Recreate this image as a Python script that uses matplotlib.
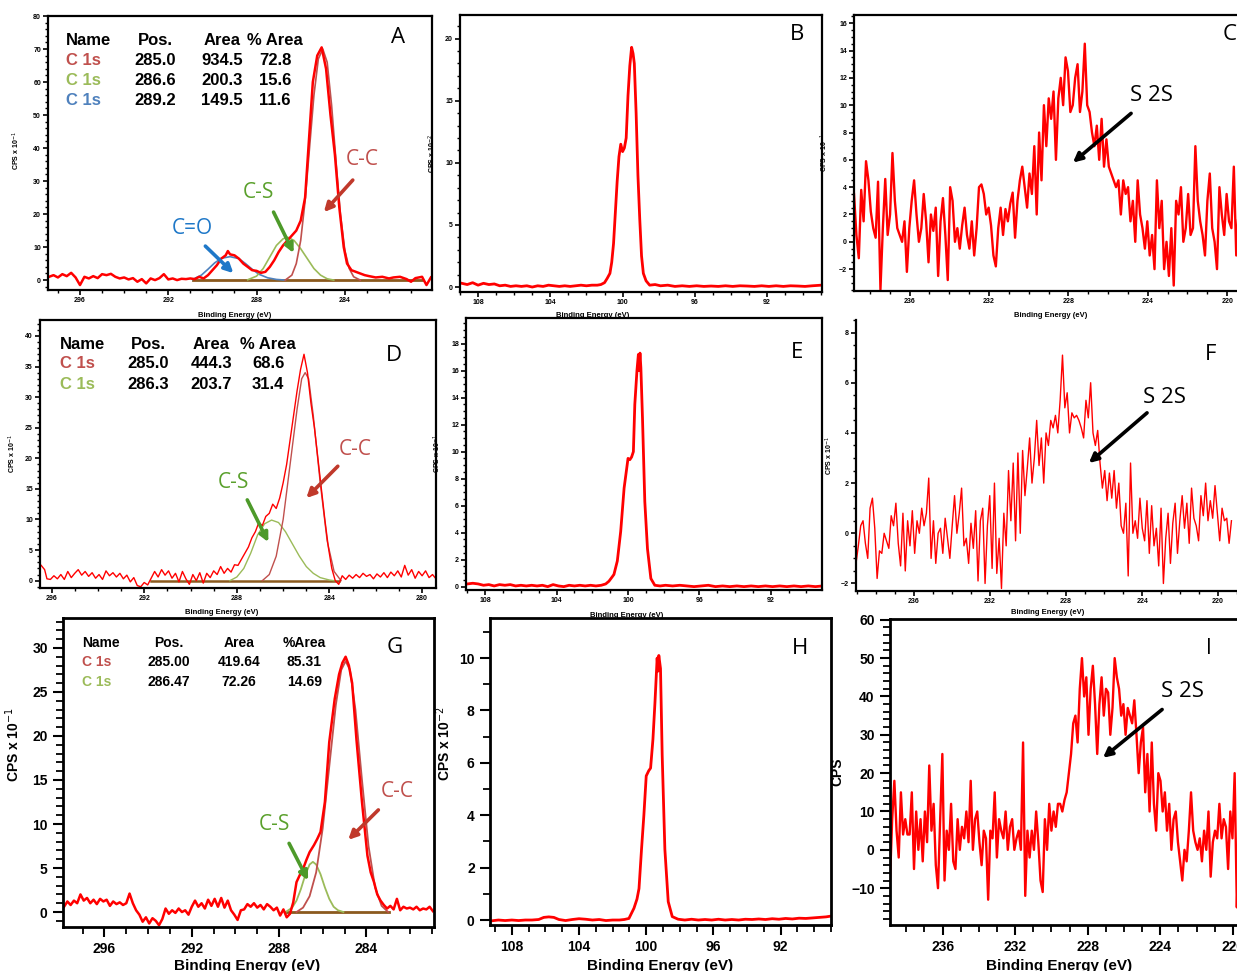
import numpy as np
import matplotlib
matplotlib.use("Agg")
import matplotlib.pyplot as plt
from matplotlib.ticker import MultipleLocator

plt.rcParams['font.family'] = ['Liberation Sans', 'DejaVu Sans']

# ---------------- data ----------------
# A : C 1s, sample 1
a_be = [297.4, 297.2, 297.0, 296.8, 296.6, 296.4, 296.2, 296.0, 295.8, 295.6,
        295.4, 295.2, 295.0, 294.8, 294.6, 294.4, 294.2, 294.0, 293.8, 293.6,
        293.4, 293.2, 293.0, 292.8, 292.6, 292.4, 292.2, 292.0, 291.8, 291.6,
        291.4, 291.2, 291.0, 290.8, 290.6, 290.4, 290.2, 290.0, 289.8, 289.6,
        289.4, 289.3, 289.2, 289.0, 288.8, 288.6, 288.4, 288.2, 288.0, 287.8,
        287.6, 287.4, 287.2, 287.0, 286.8, 286.6, 286.4, 286.2, 286.0, 285.8,
        285.65, 285.45, 285.25, 285.05, 284.85, 284.65, 284.45, 284.25, 284.05, 283.9,
        283.7, 283.5, 283.3, 283.1, 282.9, 282.6, 282.3, 282.0, 281.8, 281.5,
        281.2, 281.0, 280.8, 280.5, 280.3, 280.1]
a_cps = [1.0, 1.5, 0.8, 1.8, 1.2, 2.2, 0.8, -1.5, 1.0, 0.5,
         1.2, 0.6, 1.8, 1.5, 1.9, 1.0, 0.5, 0.8, 0.2, 0.6,
         -0.5, 0.3, -1.0, 0.5, 0.0, 0.6, 1.8, 0.2, 0.5, 0.0,
         0.4, 0.3, 0.5, 0.3, 1.0, 0.5, 1.5, 3.0, 4.5, 6.5,
         7.5, 8.8, 7.8, 7.5, 6.5, 5.0, 4.0, 3.0, 2.8, 2.2,
         2.5, 4.0, 6.0, 8.5, 10.5, 12.0, 13.5, 15.0, 18.0, 25.0,
         40.0, 60.0, 68.0, 70.5, 64.0, 50.0, 38.0, 22.0, 10.0, 5.0,
         3.0, 2.5, 2.0, 1.5, 1.2, 0.8, 1.0, 0.5, 0.8, 1.0,
         0.3, -0.5, 0.6, 1.0, -1.5, 0.8]
a_co_be = [290.9, 290.5, 290.2, 289.9, 289.6, 289.2, 288.8, 288.5, 288.2, 287.9, 287.5, 287.1, 286.7]
a_co = [0.2, 1.5, 3.3, 5.2, 6.6, 7.1, 6.5, 5.0, 3.3, 1.8, 0.7, 0.2, 0.0]
a_cs_be = [288.4, 288.0, 287.7, 287.4, 287.1, 286.8, 286.6, 286.3, 286.0, 285.7, 285.4, 285.1, 284.8, 284.5]
a_cs = [0.1, 1.2, 3.5, 7.0, 10.5, 12.5, 13.0, 12.0, 9.5, 6.5, 3.5, 1.5, 0.4, 0.0]
a_cc_be = [286.7, 286.4, 286.2, 286.0, 285.8, 285.6, 285.4, 285.2, 285.0, 284.8, 284.6, 284.4, 284.2, 284.0, 283.8, 283.6, 283.3]
a_cc = [0.0, 1.5, 5.0, 12.0, 24.0, 40.0, 56.0, 67.0, 70.0, 66.0, 53.0, 36.0, 20.0, 9.0, 3.5, 1.0, 0.0]
a_bg_be = [290.9, 280.5]
a_table = [["Name", "Pos.", "Area", "% Area"],
           ["C 1s", "285.0", "934.5", "72.8"],
           ["C 1s", "286.6", "200.3", "15.6"],
           ["C 1s", "289.2", "149.5", "11.6"]]

# B : S 2p, sample 1
b_be = [108.9, 108.6, 108.3, 108.0, 107.7, 107.4, 107.1, 106.8, 106.5, 106.2,
        105.9, 105.6, 105.3, 105.0, 104.7, 104.4, 104.1, 103.8, 103.5, 103.2,
        102.9, 102.6, 102.3, 102.0, 101.7, 101.4, 101.2, 101.0, 100.85, 100.7,
        100.6, 100.5, 100.4, 100.3, 100.2, 100.1, 100.0, 99.9, 99.8, 99.7,
        99.6, 99.5, 99.42, 99.35, 99.25, 99.15, 99.05, 98.95, 98.85, 98.7,
        98.5, 98.2, 97.9, 97.5, 97.1, 96.7, 96.3, 95.9, 95.5, 95.1,
        94.7, 94.3, 93.9, 93.5, 93.1, 92.7, 92.3, 91.9, 91.5, 91.1,
        90.7, 90.3, 89.9, 89.5, 89.0]
b_cps = [0.3, 0.2, 0.35, 0.15, 0.3, 0.2, 0.25, 0.1, 0.15, 0.05,
         0.1, 0.05, 0.1, 0.0, 0.1, 0.05, 0.15, 0.1, 0.05, 0.1,
         0.05, 0.1, 0.15, 0.1, 0.15, 0.15, 0.2, 0.35, 0.7, 1.1,
         2.0, 3.5, 6.0, 8.5, 10.5, 11.5, 10.9, 11.2, 12.0, 15.4,
         17.8, 19.3, 18.8, 18.0, 14.0, 9.0, 5.5, 2.5, 1.1, 0.5,
         0.15, 0.2, 0.1, 0.15, 0.05, 0.1, 0.05, 0.1, 0.05, 0.08,
         0.05, 0.1, 0.05, 0.1, 0.08, 0.05, 0.1, 0.05, 0.1, 0.05,
         0.1, 0.08, 0.05, 0.1, 0.15]

# C : S 2s, sample 1 (uniform energy grid)
c_range = (238.8, 219.3)
c_cps = [3.5, 0.5, -1.2, 3.8, 1.5, 5.9, 4.5, 2.2, 1.0, 0.3,
         4.4, -3.5, 1.0, 4.6, 0.5, 2.0, 6.5, 3.0, 1.0, 0.5,
         0.0, 1.5, -2.2, 1.0, 3.0, 4.5, 2.0, 0.0, 1.0, 3.5,
         1.5, -1.5, 2.0, 0.8, 2.5, -2.5, 1.5, 3.2, 0.5, -2.8,
         4.0, 3.0, 0.0, 1.0, -0.5, 1.2, 2.5, 0.5, -0.5, 1.5,
         -1.0, 1.0, 4.0, 4.2, 3.5, 2.0, 2.5, 1.2, -1.0, -1.8,
         1.0, 2.5, 0.5, 2.4, 1.5, 2.8, 3.6, 0.3, 3.0, 4.5,
         5.5, 4.0, 2.5, 5.0, 3.5, 7.0, 2.0, 8.0, 4.5, 10.0,
         7.0, 10.5, 9.0, 11.0, 6.0, 10.5, 12.0, 10.0, 13.5, 12.5,
         9.5, 10.0, 12.0, 13.0, 9.5, 11.0, 14.5, 10.0, 9.5, 8.0,
         7.0, 8.5, 6.0, 9.0, 5.5, 7.5, 5.5, 5.0, 4.5, 4.0,
         4.5, 2.0, 4.5, 3.5, 4.0, 1.5, 3.0, 0.0, 4.5, 2.0,
         1.0, -0.5, 1.5, -1.0, 0.5, -2.0, 4.5, 1.0, 3.0, -2.0,
         0.0, -2.5, 1.0, -3.2, 3.0, 2.0, 4.0, 0.0, 1.0, 3.5,
         0.5, 1.0, 7.0, 3.0, 1.5, 0.5, -1.0, 3.0, 5.0, 1.0,
         0.0, -2.0, 4.0, 2.0, 0.5, 3.5, 1.5, 1.0, 5.5, -1.0,
         2.5, 2.0]

# D : C 1s, sample 2
d_be = [296.45, 296.3, 296.2, 296.05, 295.9, 295.75, 295.6, 295.45, 295.3, 295.15,
        295.0, 294.85, 294.7, 294.55, 294.4, 294.25, 294.1, 293.95, 293.8, 293.65,
        293.5, 293.35, 293.2, 293.05, 292.9, 292.75, 292.6, 292.45, 292.3, 292.15,
        292.0, 291.85, 291.7, 291.55, 291.4, 291.25, 291.1, 290.95, 290.8, 290.65,
        290.5, 290.35, 290.2, 290.05, 289.9, 289.75, 289.6, 289.45, 289.3, 289.15,
        289.0, 288.85, 288.7, 288.55, 288.4, 288.25, 288.1, 287.95, 287.8, 287.65,
        287.5, 287.35, 287.2, 287.05, 286.9, 286.75, 286.6, 286.45, 286.3, 286.15,
        286.0, 285.85, 285.7, 285.55, 285.4, 285.25, 285.1, 284.95, 284.8, 284.65,
        284.5, 284.35, 284.2, 284.05, 283.9, 283.75, 283.6, 283.45, 283.3, 283.15,
        283.0, 282.85, 282.7, 282.55, 282.4, 282.25, 282.1, 281.95, 281.8, 281.65,
        281.5, 281.35, 281.2, 281.05, 280.9, 280.75, 280.6, 280.45, 280.3, 280.15,
        280.0, 279.85, 279.7, 279.55, 279.4]
d_cps = [2.5, 1.8, 0.3, 0.2, 0.8, 0.3, 1.0, 0.2, 1.5, 0.5,
         1.2, 1.8, 0.9, 1.5, 0.7, 1.3, 0.4, 1.0, 0.2, 1.6,
         0.8, 1.3, 0.6, 1.2, 0.3, 0.9, -0.2, 0.5, -0.8, -1.0,
         -0.3, -0.7, 0.4, 1.5, 0.6, 1.8, 0.9, 1.6, 0.4, 1.2,
         -0.2, 1.5, 0.3, -0.6, 1.0, 0.0, 1.3, -0.4, 1.2, 0.5,
         1.6, 1.0, 2.3, 1.2, 2.0, 1.4, 2.6, 2.5, 3.5, 4.5,
         5.5, 7.0, 8.0, 9.5, 9.0, 10.5, 11.0, 12.5, 11.8, 13.5,
         16.0, 19.0, 23.0, 27.0, 31.0, 34.5, 37.0, 34.0, 29.0, 25.0,
         20.0, 15.0, 10.0, 5.5, 2.0, 0.0, -0.6, 0.8, 0.2, 0.9,
         0.4, 1.0, 0.5, 1.2, 0.7, 1.0, 0.3, 1.1, 0.6, 1.3,
         0.5, 1.4, 0.8, 1.6, 0.6, 2.5, 0.9, 1.8, 0.4, 1.5,
         0.8, 1.6, 0.5, 1.0, 0.3]
d_cs_be = [288.3, 288.0, 287.7, 287.4, 287.1, 286.8, 286.5, 286.2, 285.9, 285.6, 285.3, 285.0, 284.7, 284.4, 284.0, 283.8]
d_cs = [0.0, 0.6, 2.0, 4.5, 7.5, 9.3, 9.9, 9.5, 8.0, 6.0, 4.0, 2.3, 1.2, 0.5, 0.1, 0.0]
d_cc_be = [286.9, 286.6, 286.3, 286.0, 285.7, 285.4, 285.2, 285.05, 284.9, 284.7, 284.4, 284.1, 283.8, 283.5]
d_cc = [0.0, 1.0, 4.0, 10.0, 19.0, 28.0, 33.0, 34.0, 33.0, 27.0, 16.0, 6.5, 1.5, 0.0]
d_bg_be = [291.7, 283.6]
d_table = [["Name", "Pos.", "Area", "% Area"],
           ["C 1s", "285.0", "444.3", "68.6"],
           ["C 1s", "286.3", "203.7", "31.4"]]

# E : S 2p, sample 2
e_be = [109.0, 108.7, 108.4, 108.1, 107.8, 107.5, 107.2, 106.9, 106.6, 106.3,
        106.0, 105.7, 105.4, 105.1, 104.8, 104.5, 104.2, 103.9, 103.6, 103.3,
        103.0, 102.7, 102.4, 102.1, 101.8, 101.5, 101.25, 101.07, 100.9, 100.79,
        100.6, 100.41, 100.22, 100.07, 100.0, 99.9, 99.8, 99.7, 99.62, 99.5,
        99.42, 99.38, 99.33, 99.28, 99.19, 99.06, 98.91, 98.72, 98.5, 98.2,
        97.9, 97.5, 97.1, 96.7, 96.3, 95.9, 95.5, 95.1, 94.7, 94.3,
        93.9, 93.5, 93.1, 92.7, 92.3, 91.9, 91.5, 91.1, 90.7, 90.3,
        89.9, 89.5, 89.1]
e_cps = [0.2, 0.25, 0.2, 0.1, 0.15, 0.05, 0.15, 0.1, 0.15, 0.05,
         0.1, 0.05, 0.1, 0.05, 0.1, 0.0, 0.15, 0.05, 0.0, 0.1,
         0.05, 0.1, 0.05, 0.1, 0.05, 0.1, 0.2, 0.4, 0.7, 0.9,
         1.9, 4.1, 7.3, 8.8, 9.5, 9.4, 9.6, 10.0, 13.5, 16.0,
         17.2, 16.0, 17.3, 16.2, 12.5, 6.3, 2.8, 0.6, 0.1, 0.05,
         0.1, 0.05, 0.1, 0.05, 0.0, 0.05, 0.1, 0.0, 0.05, 0.0,
         0.05, 0.0, 0.05, 0.0, 0.05, 0.0, 0.05, 0.0, 0.05, 0.0,
         0.05, 0.0, 0.05]

# F : S 2s, sample 2 (uniform energy grid)
f_range = (239.05, 219.3)
f_cps = [-1.2, -0.5, 0.3, 0.5, -0.4, -1.0, 1.0, 1.4, 0.2, -1.8,
         -0.7, -0.8, 0.0, -0.3, -0.6, 0.7, 0.3, 1.2, -0.4, -1.3,
         0.8, -1.5, 0.5, -0.5, 0.9, -0.8, 0.5, 0.0, 1.0, 0.3,
         0.8, 2.2, -1.0, 0.5, -1.2, 0.0, 0.2, -0.8, 0.6, -0.2,
         -1.0, 0.3, 1.5, 0.0, 0.8, 1.8, -0.5, -0.2, -1.2, 0.4,
         -0.6, 0.9, -1.9, 0.5, 1.0, -2.0, 0.3, 1.5, -1.4, 2.0,
         -1.6, -0.2, -2.2, 0.8, -0.5, 2.5, 0.5, 2.8, -0.3, 3.2,
         0.0, 3.3, 1.5, 2.6, 3.8, 2.0, 3.0, 4.5, 2.7, 3.8,
         2.0, 4.0, 3.5, 4.5, 4.2, 4.7, 4.0, 5.3, 7.1, 5.0,
         5.6, 4.0, 4.8, 4.6, 4.7, 4.5, 4.2, 3.8, 5.3, 4.6,
         6.0, 4.0, 3.5, 4.1, 2.8, 1.8, 2.5, 1.3, 2.4, 1.4,
         2.5, 1.0, 2.0, 0.3, 0.0, 1.2, -1.7, 2.8, 0.0, 0.5,
         -0.2, 1.4, 0.2, -0.3, 1.3, -0.8, 1.1, -0.5, 0.2, -1.3,
         1.0, -2.0, -0.2, 0.8, -1.2, 0.4, 1.2, -0.8, 0.5, 1.5,
         0.2, 1.2, -0.4, 1.8, 0.6, 0.3, -0.3, 1.5, 0.7, 2.0,
         0.5, 1.3, 0.6, 1.9, 0.8, -0.3, 1.0, 0.5, 0.6, -0.4,
         0.5]

# G : C 1s, sample 3
g_be = [297.85, 297.7, 297.55, 297.4, 297.25, 297.1, 296.95, 296.8, 296.65, 296.5,
        296.35, 296.2, 296.05, 295.9, 295.75, 295.6, 295.45, 295.3, 295.15, 295.0,
        294.85, 294.7, 294.55, 294.4, 294.25, 294.1, 293.95, 293.8, 293.65, 293.5,
        293.35, 293.2, 293.05, 292.9, 292.75, 292.6, 292.45, 292.3, 292.15, 292.0,
        291.85, 291.7, 291.55, 291.4, 291.25, 291.1, 290.95, 290.8, 290.65, 290.5,
        290.35, 290.2, 290.05, 289.9, 289.75, 289.6, 289.45, 289.3, 289.15, 289.0,
        288.85, 288.7, 288.55, 288.4, 288.25, 288.1, 287.95, 287.8, 287.65, 287.5,
        287.35, 287.2, 287.05, 286.9, 286.75, 286.6, 286.4, 286.25, 286.1, 285.9,
        285.7, 285.45, 285.25, 285.1, 284.95, 284.8, 284.65, 284.45, 284.2, 283.95,
        283.8, 283.65, 283.5, 283.35, 283.2, 283.05, 282.9, 282.75, 282.6, 282.45,
        282.3, 282.15, 282.0, 281.85, 281.7, 281.55, 281.4, 281.25, 281.1, 280.95]
g_cps = [0.6, 1.2, 0.8, 1.3, 1.0, 2.0, 1.3, 1.6, 1.0, 1.4,
         0.9, 1.5, 1.2, 1.4, 0.7, 1.2, 0.9, 1.1, 0.8, 1.0,
         2.1, 1.0, 0.2, -0.3, -1.1, -0.6, -1.3, -0.7, -1.0, -1.5,
         -0.8, 0.4, -0.2, 0.2, -0.1, 0.4, 0.0, 0.2, -0.3, 0.6,
         1.3, 0.6, 1.0, 0.4, 1.4, 0.7, 1.5, 0.6, 1.6, 0.5,
         1.3, 0.2, -0.3, -0.9, 0.2, 0.3, 0.9, 0.6, 1.0, 0.5,
         0.8, 0.3, 0.9, 0.6, 0.2, 0.5, -0.4, 0.3, -0.6, -0.2,
         1.1, 3.4, 4.2, 4.9, 5.9, 6.8, 7.6, 8.3, 9.1, 12.5,
         19.3, 24.2, 27.0, 28.3, 29.0, 28.0, 26.0, 19.5, 12.5, 6.4,
         4.5, 3.4, 2.0, 1.3, 0.8, 0.4, 0.7, 0.3, 1.5, 0.2,
         0.6, 0.4, 0.5, 0.3, 0.6, 0.2, 0.4, 0.3, 0.6, 0.1]
g_cs_be = [287.7, 287.4, 287.2, 287.0, 286.8, 286.6, 286.45, 286.3, 286.1, 285.9, 285.7, 285.5, 285.3, 285.05]
g_cs = [0.0, 0.5, 1.3, 2.6, 4.2, 5.4, 5.7, 5.4, 4.3, 2.8, 1.5, 0.6, 0.2, 0.0]
g_cc_be = [287.2, 286.9, 286.6, 286.3, 286.0, 285.7, 285.4, 285.15, 284.95, 284.75, 284.5, 284.2, 283.9, 283.6, 283.3, 283.0]
g_cc = [0.0, 0.5, 1.8, 4.5, 9.5, 16.5, 23.5, 27.5, 28.5, 27.5, 23.0, 15.0, 7.5, 2.8, 0.7, 0.0]
g_bg_be = [287.75, 282.95]
g_table = [["Name", "Pos.", "Area", "%Area"],
           ["C 1s", "285.00", "419.64", "85.31"],
           ["C 1s", "286.47", "72.26", "14.69"]]

# H : S 2p, sample 3
h_be = [109.2, 108.8, 108.4, 108.0, 107.6, 107.2, 106.8, 106.4, 106.1, 105.8,
        105.5, 105.2, 104.8, 104.4, 104.0, 103.6, 103.2, 102.8, 102.4, 102.0,
        101.6, 101.3, 101.03, 100.73, 100.55, 100.43, 100.28, 100.14, 100.0, 99.85,
        99.74, 99.6, 99.48, 99.35, 99.3, 99.25, 99.15, 99.05, 98.89, 98.69,
        98.45, 98.1, 97.7, 97.3, 96.9, 96.5, 96.1, 95.7, 95.3, 94.9,
        94.5, 94.1, 93.7, 93.3, 92.9, 92.5, 92.1, 91.7, 91.3, 90.9,
        90.5, 90.1, 89.7, 89.3, 89.0]
h_cps = [-0.03, 0.0, -0.02, 0.0, -0.02, 0.0, 0.0, 0.02, 0.1, 0.12,
         0.1, 0.02, -0.02, 0.02, 0.05, 0.03, 0.0, 0.02, -0.02, 0.0,
         0.0, 0.02, 0.06, 0.45, 0.8, 1.2, 2.7, 4.0, 5.5, 5.7,
         5.8, 6.9, 8.3, 10.0, 9.5, 10.1, 9.6, 6.3, 2.7, 0.7,
         0.13, 0.03, 0.0, 0.03, 0.0, 0.02, 0.0, 0.03, 0.0, 0.02,
         0.0, 0.03, 0.02, 0.04, 0.02, 0.05, 0.03, 0.06, 0.04, 0.07,
         0.06, 0.08, 0.1, 0.12, 0.15]

# I : S 2s, sample 3 (uniform energy grid)
i_range = (238.9, 219.3)
i_cps = [-8, 8, 18, 5, -2, 15, 4, 8, 4, 4,
         15, -5, 10, 0, 8, -3, 10, 2, 22, 5,
         12, -4, -10, 8, 25, -8, 5, 0, 12, -3,
         -5, 8, 0, 6, 3, 10, 2, 18, 0, 8,
         10, 2, -4, 5, 3, -13, 5, 3, 15, -2,
         8, 5, 3, 10, 0, 6, 8, 0, 3, 5,
         0, 28, -12, 5, -2, 5, 0, 10, 2, -8,
         -11, 8, 0, 12, 5, 10, 6, 12, 12, 10,
         13, 15, 20, 25, 33, 35, 28, 42, 50, 40,
         45, 30, 42, 48, 38, 25, 38, 45, 35, 42,
         41, 30, 37, 50, 45, 42, 35, 38, 30, 37,
         35, 33, 39, 30, 20, 28, 32, 15, 25, 10,
         28, 12, 5, 20, 18, 10, 15, 5, 12, 0,
         8, 10, 2, -3, -8, 0, -3, 5, 15, 5,
         2, 0, 3, -3, 5, 0, 10, -7, 2, 5,
         3, 12, 3, 8, 6, -5, 10, 3, 20, -15,
         5, 10, 0, 5]

# ---------------- colours ----------------
RED = "#ff0000"
CC_COL = "#c0504d"
CS_COL = "#9bbb59"
CO_COL = "#4f81bd"
BG_COL = "#8b5a1e"
CC_ARROW = "#c0392b"
CS_ARROW = "#4d9a2a"
CO_ARROW = "#1f78c8"
ANN_FONT = ['Open Sans', 'DejaVu Sans']

W, H = 1237, 971
fig = plt.figure(figsize=(W / 100, H / 100), dpi=100)


def add_axes(x0, y0, x1, y1):
    # pixel box (left, top, right, bottom) -> figure fraction
    return fig.add_axes([x0 / W, 1 - y1 / H, (x1 - x0) / W, (y1 - y0) / H])


def style(ax, xlim, ylim, ymaj, ymin, big, ylabel, ylab_pos, xlab_pos, top=True):
    ax.set_xlim(*xlim)
    ax.set_ylim(*ylim)
    ax.xaxis.set_major_locator(MultipleLocator(4))
    ax.xaxis.set_minor_locator(MultipleLocator(1))
    ax.yaxis.set_major_locator(MultipleLocator(ymaj))
    ax.yaxis.set_minor_locator(MultipleLocator(ymin))
    fs = 10 if big else 5
    lw = 2.0 if big else 1.6
    for s in ax.spines.values():
        s.set_linewidth(lw)
    if not top:
        ax.spines['top'].set_visible(False)
    ax.tick_params(which='major', direction='out', length=7 if big else 3.5,
                   width=1.5 if big else 1.2, labelsize=fs, pad=4 if big else 1.5)
    ax.tick_params(which='minor', direction='out', length=5 if big else 2.5,
                   width=1.3 if big else 1.0)
    for lab in ax.get_xticklabels() + ax.get_yticklabels():
        lab.set_fontweight('bold')
    ax.set_xlabel("Binding Energy (eV)", fontsize=11 if big else 5.5,
                  fontweight='bold')
    ax.xaxis.set_label_coords(*xlab_pos)
    ax.set_ylabel(ylabel, fontsize=10 if big else 5, fontweight='bold')
    ax.yaxis.set_label_coords(*ylab_pos)


def table(ax, rows, colors, xs, ys, fs):
    for r, row in enumerate(rows):
        for c, txt in enumerate(row):
            col = colors[r - 1] if (c == 0 and r > 0) else 'black'
            ha = 'left' if c == 0 else 'center'
            ax.text(xs[c], ys[r], txt, transform=ax.transAxes, ha=ha, va='center',
                    fontsize=fs, fontweight='bold', color=col)


def letter(ax, txt, x, y, fs=16):
    ax.text(x, y, txt, transform=ax.transAxes, ha='center', va='center',
            fontsize=fs, family=ANN_FONT, color='black')


def label_arrow(ax, txt, txt_xy, tail, head, color, tcolor, fs=15):
    ax.text(txt_xy[0], txt_xy[1], txt, ha='center', va='center', fontsize=fs,
            family=ANN_FONT, color=tcolor)
    ax.annotate("", xy=head, xytext=tail,
                arrowprops=dict(arrowstyle='-|>', lw=2.6, color=color,
                                mutation_scale=13, shrinkA=0, shrinkB=0))


# ---------------- A ----------------
ax = add_axes(48, 16, 432, 290)
ax.plot(a_bg_be, [0, 0], color=BG_COL, lw=2)
ax.plot(a_co_be, a_co, color=CO_COL, lw=1.2)
ax.plot(a_cs_be, a_cs, color=CS_COL, lw=1.2)
ax.plot(a_cc_be, a_cc, color=CC_COL, lw=1.2)
ax.plot(a_be, a_cps, color=RED, lw=1.8)
style(ax, (297.45, 280.05), (-3, 80), 10, 2, False, "CPS x 10$^{-1}$",
      (-0.068, 0.51), (0.487, -0.08))
table(ax, a_table, [CC_COL, CS_COL, CO_COL],
      [0.047, 0.279, 0.453, 0.591], [0.912, 0.839, 0.766, 0.693], 12)
letter(ax, "A", 0.911, 0.923)
label_arrow(ax, "C-C", (283.2, 36.4), (283.64, 30.3), (284.95, 20.6), CC_ARROW, CC_COL)
label_arrow(ax, "C-S", (287.9, 26.4), (287.23, 20.6), (286.32, 8.2), CS_ARROW, "#5aa02c")
label_arrow(ax, "C=O", (290.9, 15.5), (290.32, 10.3), (289.05, 2.1), CO_ARROW, "#1f78c8")

# ---------------- B ----------------
ax = add_axes(460, 15, 822, 292)
ax.plot(b_be, b_cps, color=RED, lw=2)
style(ax, (109.0, 88.96), (-0.4, 21.9), 5, 1, False, "CPS x 10$^{-2}$",
      (-0.061, 0.5), (0.367, -0.072))
letter(ax, "B", 0.931, 0.928)

# ---------------- C ----------------
ax = add_axes(854, 15, 1247, 291)
c_be = np.linspace(c_range[0], c_range[1], len(c_cps))
ax.plot(c_be, c_cps, color=RED, lw=1.7)
style(ax, (238.8, 219.0), (-3.6, 16.6), 2, 0.5, False, "CPS x 10$^{-1}$",
      (-0.061, 0.5), (0.5, -0.076))
label_arrow(ax, "S 2S", (223.8, 10.7), (224.84, 9.4), (227.77, 5.8), 'black', 'black', fs=16)
fig.text(1230 / W, 1 - 35 / H, "C", ha='center', va='center', fontsize=16,
         family=ANN_FONT)

# ---------------- D ----------------
ax = add_axes(40, 320, 436, 588)
ax.plot(d_bg_be, [0, 0], color=BG_COL, lw=1.8)
ax.plot(d_cs_be, d_cs, color=CS_COL, lw=1.0)
ax.plot(d_cc_be, d_cc, color=CC_COL, lw=1.0)
ax.plot(d_be, d_cps, color=RED, lw=1.0)
style(ax, (296.5, 279.4), (-1.2, 42.6), 5, 1, False, "CPS x 10$^{-1}$",
      (-0.056, 0.5), (0.46, -0.078))
table(ax, d_table, [CC_COL, CS_COL],
      [0.05, 0.273, 0.432, 0.576], [0.91, 0.836, 0.761], 12)
letter(ax, "D", 0.894, 0.866)
label_arrow(ax, "C-C", (282.87, 21.5), (283.64, 18.7), (285.0, 13.5), CC_ARROW, CC_COL)
label_arrow(ax, "C-S", (288.15, 16.1), (287.55, 13.2), (286.64, 6.3), CS_ARROW, "#5aa02c")

# ---------------- E ----------------
ax = add_axes(466, 318, 822, 590)
ax.plot(e_be, e_cps, color=RED, lw=2)
style(ax, (109.08, 89.13), (-0.25, 19.9), 2, 0.5, False, "CPS x 10$^{-1}$",
      (-0.065, 0.5), (0.452, -0.081))
letter(ax, "E", 0.931, 0.875)

# ---------------- F ----------------
ax = add_axes(856, 320, 1240, 591)
f_be = np.linspace(f_range[0], f_range[1], len(f_cps))
ax.plot(f_be, f_cps, color=RED, lw=1.0)
style(ax, (239.05, 218.85), (-2.3, 8.5), 2, 0.5, False, "CPS x 10$^{-1}$",
      (-0.055, 0.5), (0.5, -0.066), top=False)
label_arrow(ax, "S 2S", (222.8, 5.4), (223.74, 4.8), (226.8, 2.8), 'black', 'black', fs=16)
fig.text(1211 / W, 1 - 355 / H, "F", ha='center', va='center', fontsize=16,
         family=ANN_FONT)

# ---------------- G ----------------
ax = add_axes(63, 618, 434, 927)
ax.plot(g_bg_be, [0, 0], color=BG_COL, lw=2)
ax.plot(g_cs_be, g_cs, color=CS_COL, lw=1.3)
ax.plot(g_cc_be, g_cc, color=CC_COL, lw=1.3)
ax.plot(g_be, g_cps, color=RED, lw=1.8)
style(ax, (297.9, 280.9), (-1.7, 33.4), 5, 1, True, "CPS x 10$^{-1}$",
      (-0.11, 0.59), (0.496, -0.104))
table(ax, g_table, [CC_COL, CS_COL],
      [0.051, 0.286, 0.474, 0.65], [0.919, 0.858, 0.793], 10)
letter(ax, "G", 0.895, 0.903)
label_arrow(ax, "C-C", (282.57, 13.7), (283.45, 11.6), (284.83, 8.2), CC_ARROW, CC_COL)
label_arrow(ax, "C-S", (288.23, 10.0), (287.54, 7.8), (286.67, 3.6), CS_ARROW, "#5aa02c")

# ---------------- H ----------------
ax = add_axes(490, 618, 831, 925)
ax.plot(h_be, h_cps, color=RED, lw=2)
style(ax, (109.3, 89.0), (-0.19, 11.53), 2, 1, True, "CPS x 10$^{-2}$",
      (-0.108, 0.59), (0.5, -0.11))
letter(ax, "H", 0.909, 0.902)

# ---------------- I ----------------
ax = add_axes(890, 619, 1251, 925)
i_be = np.linspace(i_range[0], i_range[1], len(i_cps))
ax.plot(i_be, i_cps, color=RED, lw=1.7)
style(ax, (238.9, 219.0), (-19.6, 60.2), 10, 2, True, "CPS",
      (-0.125, 0.5), (0.467, -0.11))
label_arrow(ax, "S 2S", (222.8, 41.3), (223.9, 36.6), (227.16, 24.0), 'black', 'black', fs=16)
fig.text(1209 / W, 1 - 649 / H, "I", ha='center', va='center', fontsize=15,
         family=ANN_FONT)

fig.savefig("out.png", dpi=100)
